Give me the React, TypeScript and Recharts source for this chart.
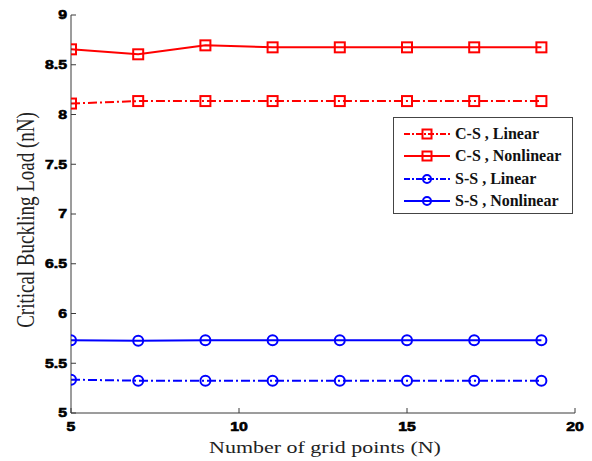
import React from "react";
import { LineChart, Line, XAxis, YAxis, Legend, Label } from "recharts";

// grid sizes N and buckling loads (nN)
const gridPoints = [5, 7, 9, 11, 13, 15, 17, 19];
const csLinear = [8.11, 8.135, 8.135, 8.135, 8.135, 8.135, 8.135, 8.135];
const csNonlinear = [8.655, 8.605, 8.695, 8.675, 8.675, 8.675, 8.675, 8.675];
const ssLinear = [5.335, 5.325, 5.325, 5.325, 5.325, 5.325, 5.325, 5.325];
const ssNonlinear = [5.73, 5.725, 5.73, 5.73, 5.73, 5.73, 5.73, 5.73];

const xTicks = [5, 10, 15, 20];
const yTicks = [5, 5.5, 6, 6.5, 7, 7.5, 8, 8.5, 9];

const data = gridPoints.map((n, i) => ({
  n,
  csLinear: csLinear[i],
  csNonlinear: csNonlinear[i],
  ssLinear: ssLinear[i],
  ssNonlinear: ssNonlinear[i],
}));

const RED = "#ff0000";
const BLUE = "#0000ff";
const DASH_DOT = "9 3 2 3";
const SERIF = "'Liberation Serif', 'Times New Roman', serif";
const SANS = "'Liberation Sans', Arial, sans-serif";
const AXIS = "#3a3a3a";
const STRETCH = 1.27; // text is drawn wide in this figure

const series = [
  { key: "csLinear", name: "C-S , Linear", color: RED, dash: DASH_DOT, shape: "square" },
  { key: "csNonlinear", name: "C-S , Nonlinear", color: RED, dash: undefined, shape: "square" },
  { key: "ssLinear", name: "S-S , Linear", color: BLUE, dash: DASH_DOT, shape: "circle" },
  { key: "ssNonlinear", name: "S-S , Nonlinear", color: BLUE, dash: undefined, shape: "circle" },
];

const Marker = ({ cx, cy, color, shape, size = 10 }: any) => {
  if (cx == null || cy == null) return null;
  if (shape === "square") {
    return (
      <rect x={cx - size / 2} y={cy - size / 2} width={size} height={size}
        fill="none" stroke={color} strokeWidth={2} />
    );
  }
  return <circle cx={cx} cy={cy} r={size / 2} fill="none" stroke={color} strokeWidth={2} />;
};

const wide = (x: number, y: number, k = STRETCH) =>
  `translate(${x} ${y}) scale(${k} 1) translate(${-x} ${-y})`;

const tickText = {
  fontFamily: SANS, fontWeight: "bold", fontSize: 12.5, fill: "#000",
  stroke: "#000", strokeWidth: 0.6,
};

const XTick = ({ x, y, payload }: any) => (
  <text x={x} y={y} dy="0.72em" textAnchor="middle" transform={wide(x, y)} {...tickText}>
    {payload.value}
  </text>
);

const YTick = ({ x, y, payload }: any) => (
  <text x={x} y={y} dy="0.36em" textAnchor="end" transform={wide(x, y)} {...tickText}>
    {payload.value}
  </text>
);

const XTitle = ({ viewBox }: any) => {
  const cx = viewBox.x + viewBox.width / 2 + 2;
  const y = viewBox.y + 40;
  return (
    <text x={cx} y={y} textAnchor="middle" transform={wide(cx, y)}
      fontFamily={SERIF} fontSize={17.3} fill="#222">
      Number of grid points (N)
    </text>
  );
};

const YTitle = ({ viewBox }: any) => {
  const x = viewBox.x + 4;
  const cy = viewBox.y + viewBox.height / 2 + 6;
  return (
    <text x={0} y={0} textAnchor="middle" dy="0.35em"
      transform={`translate(${x} ${cy}) scale(1.3 1) rotate(-90)`}
      fontFamily={SERIF} fontSize={19} fill="#222">
      Critical Buckling Load (nN)
    </text>
  );
};

const LegendBox = () => (
  <div style={{
    width: 180, height: 97, boxSizing: "border-box", border: "1px solid #444",
    background: "#fff", padding: "5px 0 0 8px", fontFamily: SERIF,
    fontWeight: "bold", fontSize: 16, color: "#111",
  }}>
    {series.map((s) => (
      <div key={s.key} style={{ display: "flex", alignItems: "center", height: 22.3 }}>
        <svg width={50} height={14} style={{ marginRight: 3 }}>
          <line x1={2} y1={7} x2={48} y2={7} stroke={s.color} strokeWidth={2}
            strokeDasharray={s.dash ? "6 2 2 2" : undefined} />
          <Marker cx={25} cy={7} color={s.color} shape={s.shape} size={s.shape === "square" ? 9 : 8} />
        </svg>
        <span>{s.name}</span>
      </div>
    ))}
  </div>
);

export default function App() {
  return (
    <div style={{ position: "absolute", left: 0, top: 0, background: "#fff" }}>
      <LineChart width={592} height={461} data={data}
        margin={{ top: 15, right: 17, bottom: 18, left: 21 }}>
        <XAxis dataKey="n" type="number" domain={[5, 20]} ticks={xTicks}
          allowDataOverflow height={30} stroke={AXIS} tickSize={-5} tickMargin={14}
          tick={<XTick />} interval={0}>
          <Label content={<XTitle />} />
        </XAxis>
        <XAxis xAxisId="top" dataKey="n" type="number" orientation="top" domain={[5, 20]}
          ticks={xTicks} height={0} stroke={AXIS} tickSize={-5} tick={false} />
        <YAxis type="number" domain={[5, 9]} ticks={yTicks} width={50} stroke={AXIS}
          tickSize={-5} tickMargin={9} tick={<YTick />} interval={0}>
          <Label content={<YTitle />} />
        </YAxis>
        <YAxis yAxisId="right" orientation="right" type="number" domain={[5, 9]}
          ticks={yTicks} width={0} stroke={AXIS} tickSize={-5} tick={false} />
        <Legend layout="horizontal" verticalAlign="middle" align="center"
          wrapperStyle={{ left: 393, top: 117, width: 180 }} content={() => <LegendBox />} />
        {series.map((s) => (
          <Line key={s.key} dataKey={s.key} name={s.name} stroke={s.color} strokeWidth={2}
            strokeDasharray={s.dash} isAnimationActive={false}
            dot={(p: any) => <Marker key={`${s.key}-${p.index}`} cx={p.cx} cy={p.cy} color={s.color} shape={s.shape} />} />
        ))}
      </LineChart>
    </div>
  );
}
